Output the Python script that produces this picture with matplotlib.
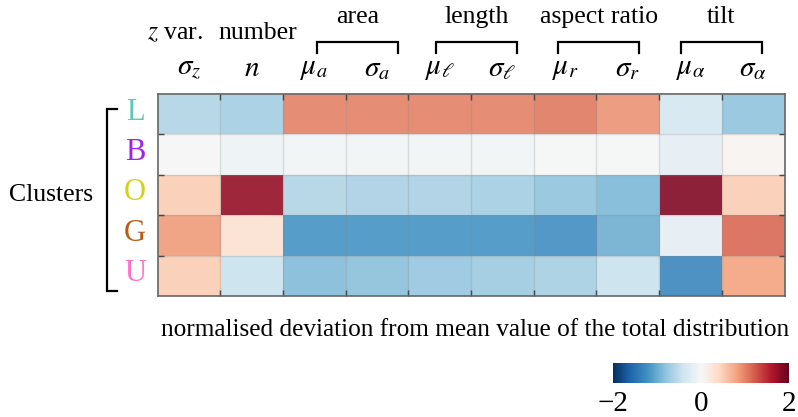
import matplotlib
matplotlib.use("Agg")
import matplotlib.pyplot as plt
import numpy as np

plt.rcParams['font.family'] = ['Liberation Serif', 'DejaVu Serif']
plt.rcParams['mathtext.fontset'] = 'stix'

# ---- data ----
clusters = ["L", "B", "O", "G", "U"]
cluster_colors = ["#5cc8b6", "#a020f0", "#d2d21c", "#b35f1a", "#ff70c8"]
col_labels = [r"$\sigma_z$", r"$n$", r"$\mu_a$", r"$\sigma_a$", r"$\mu_\ell$",
              r"$\sigma_\ell$", r"$\mu_r$", r"$\sigma_r$", r"$\mu_\alpha$", r"$\sigma_\alpha$"]
single_groups = [r"$z$ var.", "number"]
pair_groups = ["area", "length", "aspect ratio", "tilt"]
row_L = [-0.6, -0.7, 1.0, 1.0, 1.0, 1.0, 1.05, 0.9, -0.35, -0.8]
row_B = [0.0, -0.1, -0.05, -0.05, -0.05, -0.05, -0.03, -0.02, -0.18, 0.05]
row_O = [0.5, 1.75, -0.6, -0.65, -0.65, -0.7, -0.8, -0.9, 1.85, 0.5]
row_G = [0.85, 0.3, -1.2, -1.2, -1.2, -1.2, -1.25, -0.98, -0.18, 1.15]
row_U = [0.5, -0.45, -0.88, -0.83, -0.78, -0.72, -0.68, -0.45, -1.3, 0.8]
cbar_ticks = [-2, 0, 2]
xlabel = "normalised deviation from mean value of the total distribution"

values = np.array([row_L, row_B, row_O, row_G, row_U])
nrows, ncols = values.shape

W, H = 798, 417
fig = plt.figure(figsize=(W / 100, H / 100), dpi=100)
ax = fig.add_axes([157.7 / W, 1 - 296 / H, (784.5 - 157.7) / W, (296 - 94) / H])

im = ax.imshow(values, cmap="RdBu_r", vmin=-2, vmax=2, aspect="auto",
               extent=(0, ncols, nrows, 0), alpha=0.9, interpolation="nearest")
ax.set_xlim(0, ncols)
ax.set_ylim(nrows, 0)

# faint cell boundaries
for i in range(1, ncols):
    ax.axvline(i, color="#888888", alpha=0.25, lw=1)
for j in range(1, nrows):
    ax.axhline(j, color="#888888", alpha=0.25, lw=1)

ax.set_xticks(range(1, ncols))
ax.set_yticks(range(1, nrows))
ax.tick_params(direction="in", length=4, width=1, color="#333333",
               top=True, bottom=True, left=True, right=True,
               labelbottom=False, labelleft=False)
for s in ax.spines.values():
    s.set_color("#666666")
    s.set_linewidth(1.2)

fs = 18.5
# column labels
for i, lab in enumerate(col_labels):
    ax.text(i + 0.5, -0.62, lab, ha="center", va="center", fontsize=21, clip_on=False)

# single group labels
ax.text(0.28, -1.5, single_groups[0], ha="center", va="center", fontsize=fs, clip_on=False)
ax.text(1.6, -1.5, single_groups[1], ha="center", va="center", fontsize=fs, clip_on=False)

# pair group labels with brackets
bracket_x = [(2.545, 3.837), (4.44, 5.73), (6.39, 7.68), (8.35, 9.64)]
for name, (x0, x1) in zip(pair_groups, bracket_x):
    ax.plot([x0, x0, x1, x1], [-1.02, -1.29, -1.29, -1.02], color="black", lw=1.6,
            clip_on=False, solid_joinstyle="miter")
    ax.text((x0 + x1) / 2, -1.9, name, ha="center", va="center", fontsize=fs, clip_on=False)

# cluster letters
for j, (c, col) in enumerate(zip(clusters, cluster_colors)):
    ax.text(-0.36, j + 0.45, c, ha="center", va="center", fontsize=22, color=col,
            clip_on=False)

# left bracket
ax.plot([-0.65, -0.81, -0.81, -0.65], [0.37, 0.37, 4.88, 4.88], color="black", lw=1.6,
        clip_on=False, solid_joinstyle="miter")
ax.text(-1.70, 2.5, "Clusters", ha="center", va="center", fontsize=fs, clip_on=False)

ax.text(5.07, 5.84, xlabel, ha="center", va="center", fontsize=18.2, clip_on=False)

# colorbar
cax = fig.add_axes([613 / W, 1 - 383 / H, (789 - 613) / W, 20 / H])
cb = fig.colorbar(plt.cm.ScalarMappable(norm=im.norm, cmap="RdBu_r"), cax=cax,
                  orientation="horizontal", ticks=cbar_ticks)
cb.ax.set_xticklabels(["\u22122", "0", "2"], fontsize=21)
cb.ax.tick_params(length=0, pad=6)
cb.outline.set_visible(False)

fig.savefig("out.png", dpi=100)
